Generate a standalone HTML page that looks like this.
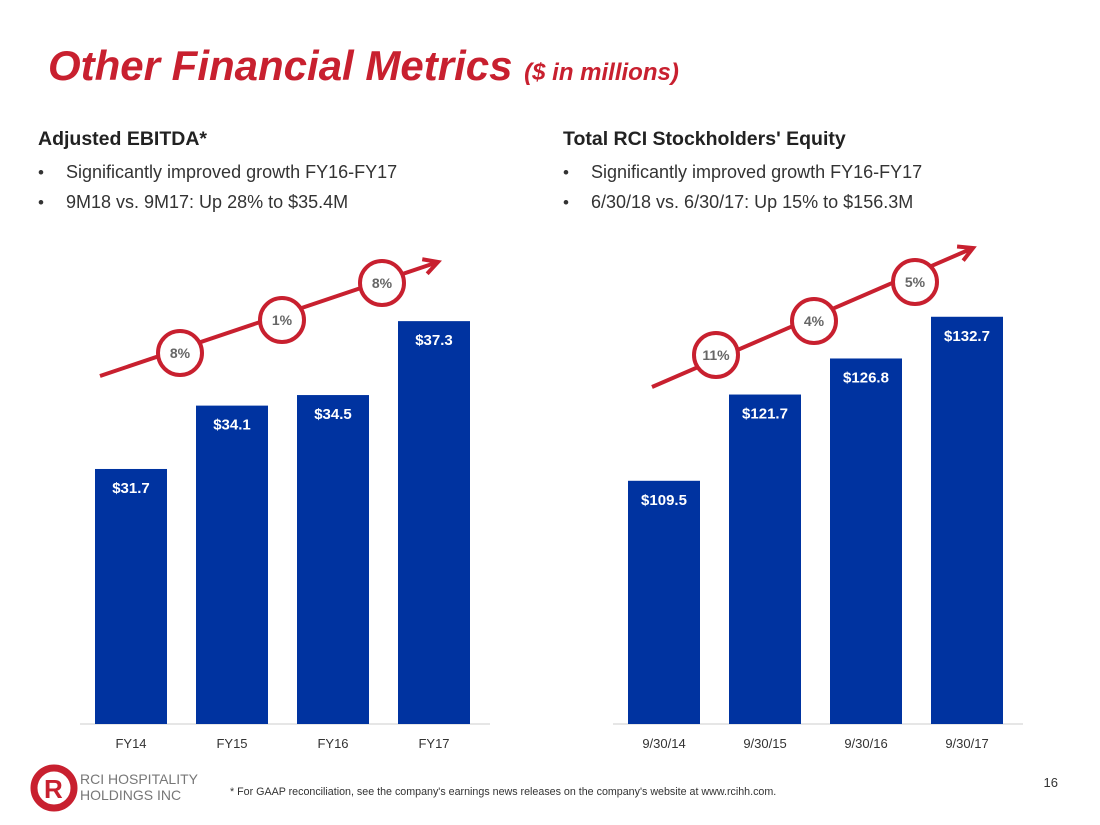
<!DOCTYPE html>
<html><head><meta charset="utf-8"><style>
body{margin:0;width:1100px;height:825px;background:#fff;font-family:"Liberation Sans",sans-serif;overflow:hidden}
svg{position:absolute;left:0;top:0}
</style></head><body>
<svg width="1100" height="825">
<text x="48" y="80" font-size="42" font-weight="bold" font-style="italic" fill="#c8202f">Other Financial Metrics <tspan font-size="24">($ in millions)</tspan></text>
<text x="38" y="145" font-size="19.5" font-weight="bold" fill="#222">Adjusted EBITDA*</text>
<text x="38" y="178" font-size="17" fill="#333">•</text>
<text x="66" y="178" font-size="18" fill="#333">Significantly improved growth FY16-FY17</text>
<text x="38" y="208" font-size="17" fill="#333">•</text>
<text x="66" y="208" font-size="18" fill="#333">9M18 vs. 9M17: Up 28% to $35.4M</text>
<text x="563" y="145" font-size="19.5" font-weight="bold" fill="#222">Total RCI Stockholders' Equity</text>
<text x="563" y="178" font-size="17" fill="#333">•</text>
<text x="591" y="178" font-size="18" fill="#333">Significantly improved growth FY16-FY17</text>
<text x="563" y="208" font-size="17" fill="#333">•</text>
<text x="591" y="208" font-size="18" fill="#333">6/30/18 vs. 6/30/17: Up 15% to $156.3M</text>
<g id="charts"></g>
<g>
<circle cx="54" cy="788" r="20" fill="none" stroke="#c8202f" stroke-width="7"/>
<text x="44" y="798" font-size="26" font-weight="bold" fill="#c8202f">R</text>
<text x="80" y="784" font-size="14" fill="#777">RCI HOSPITALITY</text>
<text x="80" y="800" font-size="14" fill="#777">HOLDINGS INC</text>
</g>
<text x="230" y="795" font-size="10.7" fill="#333">* For GAAP reconciliation, see the company's earnings news releases on the company's website at www.rcihh.com.</text>
<text x="1058" y="787" font-size="13" fill="#333" text-anchor="end">16</text>
</svg>
<script>
const leftCats=["FY14","FY15","FY16","FY17"];
const leftVals=[31.7,34.1,34.5,37.3];
const leftGrowth=["8%","1%","8%"];
const rightCats=["9/30/14","9/30/15","9/30/16","9/30/17"];
const rightVals=[109.5,121.7,126.8,132.7];
const rightGrowth=["11%","4%","5%"];
const NS="http://www.w3.org/2000/svg";
const g=document.getElementById('charts');
function mk(t,a,txt){const e=document.createElementNS(NS,t);for(const k in a)e.setAttribute(k,a[k]);if(txt)e.textContent=txt;g.appendChild(e);return e;}
function chart(cats,vals,growth,x0,vmin,ppu,arrow,circles,prefix){
  const base=724;
  const ax=mk('line',{x1:x0-15,x2:x0+395,y1:base,y2:base,stroke:'#ccc','stroke-width':1});
  
  
  cats.forEach((c,i)=>{
    const x=x0+i*101, h=(vals[i]-vmin)*ppu;
    const r=mk('rect',{x:x,y:base-h,width:72,height:h,fill:'#0033a0'});
    
    
    const v=mk('text',{x:x+36,y:base-h+24,'font-size':15,'font-weight':'bold',fill:'#fff','text-anchor':'middle'},'$'+vals[i].toFixed(1));
    
    
    const t=mk('text',{x:x+36,y:748,'font-size':13,fill:'#333','text-anchor':'middle'},c);
    
    
  });
  const [ax1,ay1,ax2,ay2]=arrow;
  const l=mk('line',{x1:ax1,y1:ay1,x2:ax2,y2:ay2,stroke:'#c8202f','stroke-width':4});
  
  
  const ang=Math.atan2(ay2-ay1,ax2-ax1),L=16;
  const p=[[ax2-L*Math.cos(ang-0.5),ay2-L*Math.sin(ang-0.5)],[ax2,ay2],[ax2-L*Math.cos(ang+0.5),ay2-L*Math.sin(ang+0.5)]];
  const h=mk('polyline',{points:p.map(q=>q.join(',')).join(' '),fill:'none',stroke:'#c8202f','stroke-width':4});
  
  
  growth.forEach((gr,i)=>{
    const [cx,cy]=circles[i];
    const c=mk('circle',{cx:cx,cy:cy,r:22,fill:'#fff',stroke:'#c8202f','stroke-width':4});
    
    
    const t=mk('text',{x:cx,y:cy+5,'font-size':14,'font-weight':'bold',fill:'#666','text-anchor':'middle'},gr);
    
    
  });
}
chart(leftCats,leftVals,leftGrowth,95,22.04,26.4,[100,376,438,262],[[180,353],[282,320],[382,283]],'left');
chart(rightCats,rightVals,rightGrowth,628,75.1,7.07,[652,387,973,248],[[716,355],[814,321],[915,282]],'right');
</script>
</body></html>
